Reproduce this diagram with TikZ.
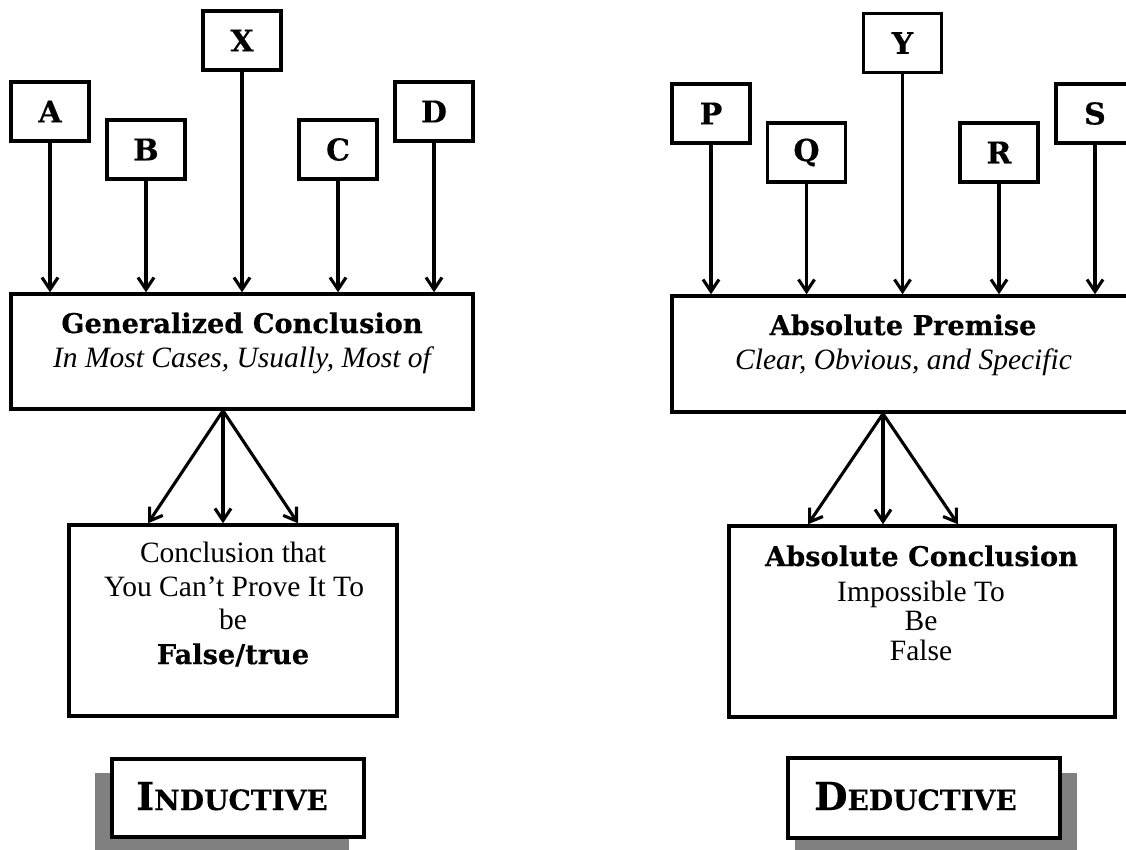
\documentclass[tikz,border=0pt]{standalone}
\usepackage{fontspec}
\setmainfont{Liberation Serif}
\newfontfamily\bkfont{DejaVu Serif}[BoldFeatures={FakeBold=0.4}]
\usetikzlibrary{arrows.meta,calc}
\begin{document}
\begin{tikzpicture}[x=1pt,y=-1pt,
  lbox/.style={draw, line width=3.5pt, minimum width=78pt, minimum height=59pt, inner sep=0pt,
    font=\bkfont\bfseries\fontsize{30}{32}\selectfont},
  bigbox/.style={draw, line width=3.5pt, inner sep=0pt, fill=white},
  arr/.style={line width=3.1pt, -{Straight Barb[length=12pt,width=16pt,line width=3.1pt]}},
  bold/.style={anchor=base, inner sep=0pt, font=\bkfont\bfseries\fontsize{27.2}{30}\selectfont},
  ital/.style={anchor=base, inner sep=0pt, font=\itshape\fontsize{29.5}{34}\selectfont},
  rom/.style={anchor=base, inner sep=0pt, font=\fontsize{29.5}{34}\selectfont},
  shadow/.style={fill=black!50, draw=none}]
\clip (0,0) rectangle (1126,849);
\fill[white] (0,0) rectangle (1126,849);

% ---------- Inductive (left) ----------
\node[lbox] (A) at (50,111.5) {A};
\node[lbox] (B) at (146,149.5) {B};
\node[lbox] (X) at (242,40.5) {X};
\node[lbox] (C) at (338,149.5) {C};
\node[lbox] (D) at (434,111.5) {D};

\node[bigbox, minimum width=462pt, minimum height=115pt] (GC) at (242,351.5) {};
\node[bold] (gct) at (242,333) {Generalized Conclusion};
\node[ital] (gci) at (242,367) {In Most Cases, Usually, Most of};

\foreach \n in {A,B,X,C,D} \draw[arr] (\n) -- (\n |- GC.north);

\node[bigbox, minimum width=328pt, minimum height=191pt] (CL) at (233,620.5) {};
\node[rom] (cl1) at (233,562) {Conclusion that};
\node[rom] (cl2) at (234,596) {You Can’t Prove It To};
\node[rom] (cl3) at (233,629) {be};
\node[bold] (cl4) at (233,664) {False/true};

\coordinate (apL) at ([xshift=-19pt]GC.south);
\draw[arr] (apL) -- (apL |- CL.north);
\draw[arr] (apL) -- ($(apL |- CL.north)+(-75,0)$);
\draw[arr] (apL) -- ($(apL |- CL.north)+(75,0)$);

\fill[shadow] (95,773) rectangle (349,852);
\node[bigbox, minimum width=252pt, minimum height=78pt] (IND) at (238,798) {};
\node[anchor=base, inner sep=0pt, font=\bkfont\bfseries] (indt) at (232,810)
  {\fontsize{38.5}{40}\selectfont I\fontsize{28}{30}\selectfont NDUCTIVE};

% ---------- Deductive (right) ----------
\node[lbox] (P) at (711,113.5) {P};
\node[lbox] (Q) at (806.5,152.5) {Q};
\node[lbox] (Y) at (902.5,43) {Y};
\node[lbox] (R) at (999,152.5) {R};
\node[lbox] (S) at (1095,113.5) {S};

\node[bigbox, minimum width=462pt, minimum height=116pt] (AP) at (903,354) {};
\node[bold] (apt) at (903,335) {Absolute Premise};
\node[ital] (api) at (903.5,369) {Clear, Obvious, and Specific};

\foreach \n in {P,Q,Y,R,S} \draw[arr] (\n) -- (\n |- AP.north);

\node[bigbox, minimum width=386pt, minimum height=191pt] (CR) at (922,621.5) {};
\node[bold] (cr1) at (921.5,566) {Absolute Conclusion};
\node[rom] (cr2) at (921,601) {Impossible To};
\node[rom] (cr3) at (921,630) {Be};
\node[rom] (cr4) at (921,660) {False};

\coordinate (apR) at ([xshift=-20pt]AP.south);
\draw[arr] (apR) -- (apR |- CR.north);
\draw[arr] (apR) -- ($(apR |- CR.north)+(-75,0)$);
\draw[arr] (apR) -- ($(apR |- CR.north)+(75,0)$);

\fill[shadow] (795,773) rectangle (1077,852);
\node[bigbox, minimum width=272pt, minimum height=80pt] (DED) at (924,798) {};
\node[anchor=base, inner sep=0pt, font=\bkfont\bfseries] (dedt) at (915.5,810)
  {\fontsize{38.5}{40}\selectfont D\fontsize{28}{30}\selectfont EDUCTIVE};
\end{tikzpicture}
\end{document}
